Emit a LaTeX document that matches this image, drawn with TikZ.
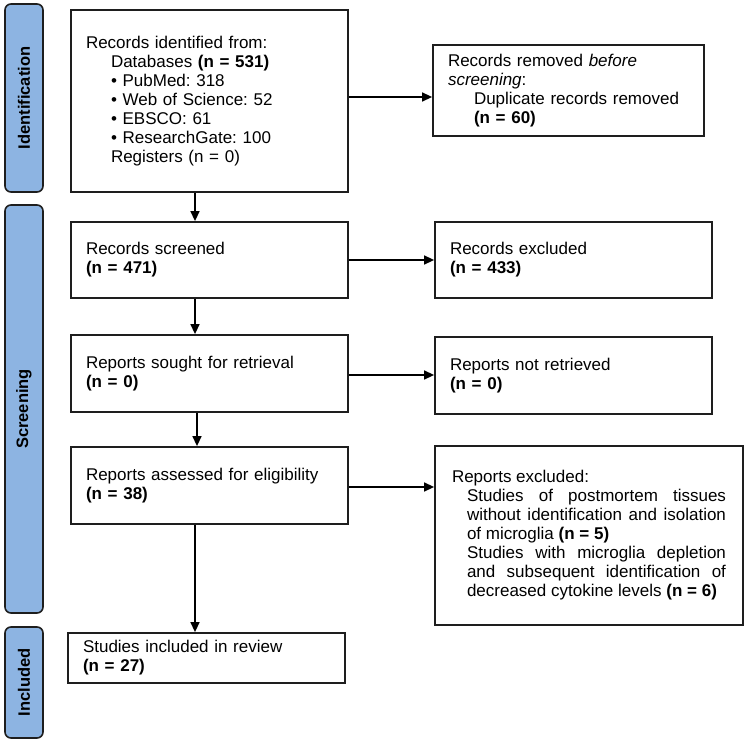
\documentclass[tikz,border=0pt]{standalone}
\usepackage{fontspec}
\setmainfont{Liberation Sans}
\usepackage{tikz}
\usetikzlibrary{arrows.meta, positioning, calc}
\definecolor{phaseblue}{RGB}{141,180,226}
\definecolor{edgegray}{RGB}{30,30,30}
\frenchspacing

\begin{document}
\begin{tikzpicture}[
        x=1pt, y=-1pt,
        recbox/.style={
            rectangle, draw=edgegray, fill=white, line width=1.8pt,
            inner xsep=15pt, inner ysep=3pt,
            align=left, anchor=center,
            font=\fontsize{17}{19}\selectfont
        },
        phasebar/.style={
            rectangle, rounded corners=6pt, draw=edgegray, fill=phaseblue,
            line width=1.6pt, rotate=90, minimum height=38pt,
            inner sep=0pt, font=\fontsize{16.5}{19}\selectfont\bfseries
        },
        flow/.style={-{Triangle[length=10pt,width=9pt]}, line width=1.4pt, draw=black}
    ]
    \useasboundingbox (0,0) rectangle (749,743);

    % phase bars
    \node[phasebar, minimum width=188pt] (phid) at (24,98) {Identification};
    \node[phasebar, minimum width=408pt] (phscr) at (24,409) {Screening};
    \node[phasebar, minimum width=111pt] (phinc) at (24,682.5) {Included};

    % main column
    \node[recbox, text width=247pt, minimum height=182pt] (ident) at (209.5,101) {
        Records identified from:\\
        \hspace*{25pt}Databases \textbf{(n = 531)}\\
        \hspace*{25pt}\textbullet\ PubMed: 318\\
        \hspace*{25pt}\textbullet\ Web of Science: 52\\
        \hspace*{25pt}\textbullet\ EBSCO: 61\\
        \hspace*{25pt}\textbullet\ ResearchGate: 100\\
        \hspace*{25pt}Registers (n = 0)
    };
    \node[recbox, text width=247pt, minimum height=76pt] (screen) at (209.5,260) {
        Records screened\\
        \textbf{(n = 471)}
    };
    \node[recbox, text width=247pt, minimum height=77pt] (sought) at (209.5,373.5) {
        Reports sought for retrieval\\
        \textbf{(n = 0)}
    };
    \node[recbox, text width=247pt, minimum height=77pt] (assess) at (209.5,485.5) {
        Reports assessed for eligibility\\
        \textbf{(n = 38)}
    };
    \node[recbox, text width=247pt, minimum height=50pt] (incl) at (206.5,658) {
        Studies included in review\\
        \textbf{(n = 27)}
    };

    % side column
    \node[recbox, text width=241pt, minimum height=91pt] (dupl) at (568.5,90.5) {
        Records removed \textit{before}\\
        \textit{screening}:\\
        \hspace*{26pt}Duplicate records removed\\
        \hspace*{26pt}\textbf{(n = 60)}
    };
    \node[recbox, text width=247pt, minimum height=76pt] (rexcl) at (573.5,260) {
        Records excluded\\
        \textbf{(n = 433)}
    };
    \node[recbox, text width=247pt, minimum height=77pt] (notret) at (573.5,375.5) {
        Reports not retrieved\\
        \textbf{(n = 0)}
    };
    \node[recbox, align=justify, inner xsep=17pt, text width=274pt, minimum height=179pt] (excl) at (589,535.5) {
        \parindent=0pt
        Reports excluded:\par
        {\leftskip=15pt
        Studies of postmortem tissues\linebreak without identification and isolation\linebreak of microglia \textbf{(n = 5)}\par
        Studies with microglia depletion\linebreak and subsequent identification of\linebreak decreased cytokine levels \textbf{(n = 6)}\par}
    };

    % connectors
    \coordinate (spine) at (195,0);
    \draw[flow] (ident.south -| spine) -- (screen.north -| spine);
    \draw[flow] (screen.south -| spine) -- (sought.north -| spine);
    \draw[flow] ([xshift=2pt]sought.south -| spine) -- ([xshift=2pt]assess.north -| spine);
    \draw[flow] (assess.south -| spine) -- (incl.north -| spine);

    \draw[flow] ([yshift=4pt]ident.east) -- ([yshift=4pt]ident.east -| dupl.west);
    \draw[flow] (screen.east) -- (rexcl.west);
    \draw[flow] ([yshift=-1.5pt]sought.east) -- ([yshift=-1.5pt]sought.east -| notret.west);
    \draw[flow] ([yshift=-1.5pt]assess.east) -- ([yshift=-1.5pt]assess.east -| excl.west);
\end{tikzpicture}
\end{document}
